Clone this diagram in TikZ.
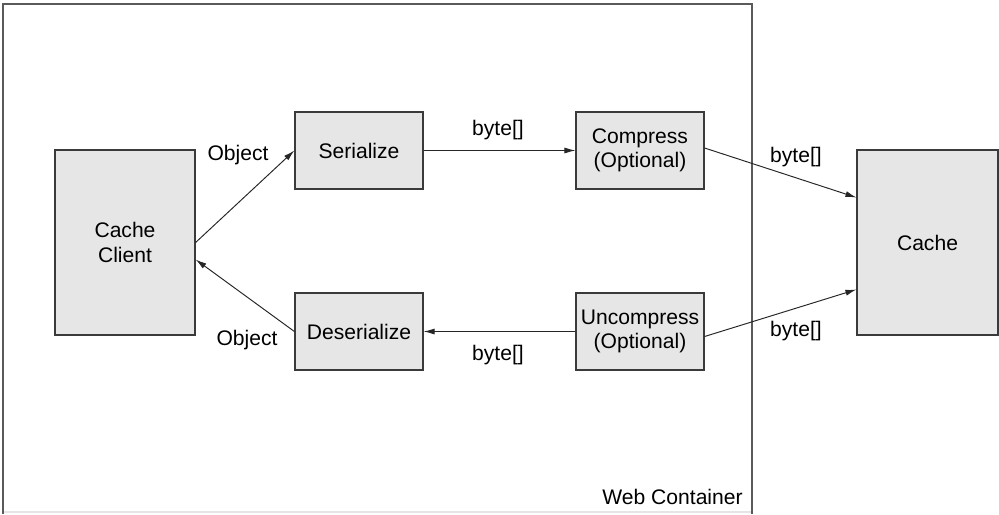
\documentclass[tikz,border=0pt]{standalone}
\usepackage{fontspec}
\setmainfont{Liberation Sans}
\usetikzlibrary{positioning,calc,arrows.meta}
\definecolor{boxfill}{HTML}{E6E6E7}
\definecolor{boxline}{HTML}{3A3A3A}
\definecolor{wallline}{HTML}{5A5A5A}

\begin{document}
\begin{tikzpicture}[x=0.02cm,y=-0.02cm]
  % Styles local to this figure.
  \tikzset{
    step box/.style={draw=boxline,fill=boxfill,line width=0.7pt,
      minimum width=2.56cm,minimum height=1.54cm,inner sep=0pt,align=center},
    end box/.style={draw=boxline,fill=boxfill,line width=0.7pt,
      minimum width=2.8cm,minimum height=3.7cm,inner sep=0pt,align=center},
    flow/.style={line width=0.55pt,draw=black!85,-{Latex[length=2.2mm,width=1.2mm]}},
    lbl/.style={inner sep=0pt}
  }
  \useasboundingbox (0,0) rectangle (999,514);
  \fontsize{12}{13.8}\selectfont

  % Web container frame, cut off at the bottom.
  \draw[black!10,line width=0.8pt] (3,512) -- (752,512);
  \draw[wallline,line width=0.8pt] (3,514) -- (3,4) -- (752,4) -- (752,514);
  \node[lbl,anchor=east] (web) at (743,497) {Web Container};

  % Client and cache.
  \node[end box] (client) at (125,242.5) {Cache\\Client};
  \node[end box,minimum width=2.82cm] (cache) at (927.5,242.5) {Cache};

  % Processing steps.
  \node[step box] (ser) at (359,150.5) {Serialize};
  \node[step box] (comp) at (640,150.5) {Compress\\(Optional)};
  \node[step box] (deser) at (359,331.5) {Deserialize};
  \node[step box] (uncomp) at (640,331.5) {Uncompress\\(Optional)};

  % Write path.
  \draw[flow] (client.east) -- (ser.west);
  \draw[flow] (ser.east) -- (comp.west);
  \draw[flow] ([yshift=0.05cm]comp.east) -- ([yshift=0.9cm]cache.west);

  % Read path (tips as printed).
  \draw[flow] ([yshift=-0.1cm]uncomp.east) -- ([yshift=-0.94cm]cache.west);
  \draw[flow] (uncomp.west) -- (deser.east);
  \draw[flow] (deser.west) -- ([yshift=-0.34cm]client.east);

  % Connector labels.
  \node[lbl] (objout) at (238,155) {Object};
  \node[lbl] (objin) at (247,340) {Object};
  \node[lbl] (bytesa) at (498,130) {byte[]};
  \node[lbl] (bytesb) at (498,355) {byte[]};
  \node[lbl] (bytesc) at (796,157) {byte[]};
  \node[lbl] (bytesd) at (796,331) {byte[]};
\end{tikzpicture}
\end{document}
